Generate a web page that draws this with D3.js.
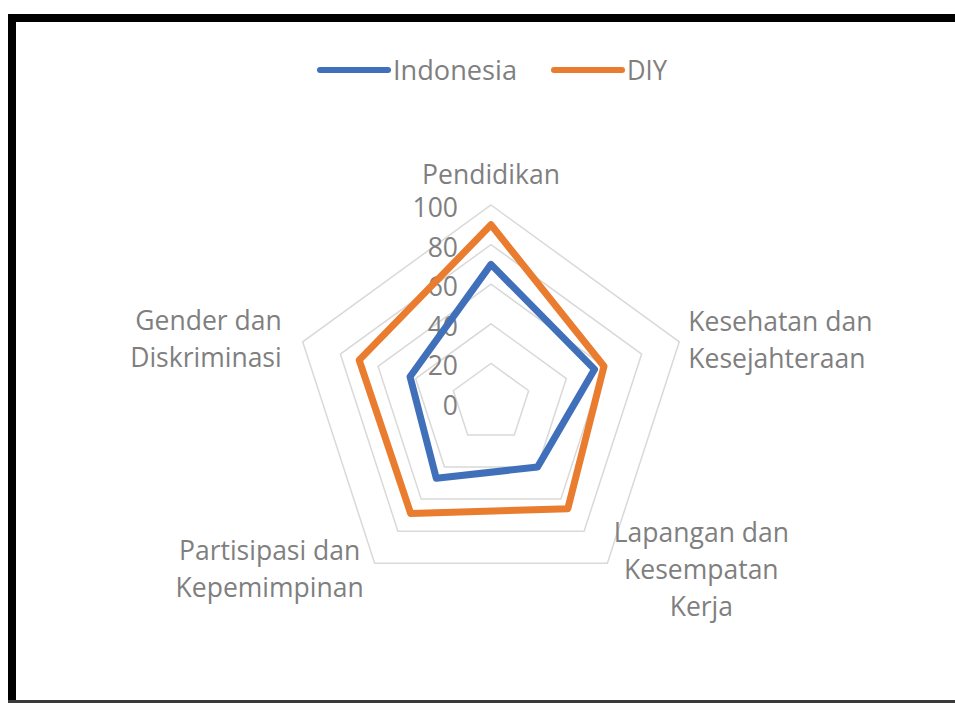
<!DOCTYPE html>
<html>
<head>
<meta charset="utf-8">
<script src="https://cdn.jsdelivr.net/npm/d3@7"></script>
<style>
  html, body { margin: 0; padding: 0; background: #fff; }
  svg { display: block; }
  text { font-family: "Open Sans", "Noto Sans", sans-serif; fill: #7f7f7f; }
</style>
</head>
<body>
<svg id="chart" width="955" height="703"></svg>
<script>
// Radar chart: Indonesia vs DIY across five dimensions
const categories = [
  ["Pendidikan"],
  ["Kesehatan dan", "Kesejahteraan"],
  ["Lapangan dan", "Kesempatan", "Kerja"],
  ["Partisipasi dan", "Kepemimpinan"],
  ["Gender dan", "Diskriminasi"]
];
const seriesNames = ["Indonesia", "DIY"];
const indonesiaValues = [70, 55, 40, 47, 43];
const diyValues = [90, 60, 66, 69, 70];
const tickValues = [0, 20, 40, 60, 80, 100];
const ringValues = [20, 40, 60, 80, 100];

const colors = { Indonesia: "#4170bb", DIY: "#e97c2f" };
const fontSize = 26.5;

const svg = d3.select("#chart");
const W = 955, H = 703;

// frame: heavy black top/left edges, thin grey bottom edge
svg.append("rect").attr("x", 8).attr("y", 14).attr("width", W - 8).attr("height", 8).attr("fill", "#000");
svg.append("rect").attr("x", 8).attr("y", 14).attr("width", 8).attr("height", H - 14).attr("fill", "#000");
svg.append("rect").attr("x", 8).attr("y", 700).attr("width", W - 8).attr("height", 3).attr("fill", "#3a3a3a");

const cx = 491, cy = 403;
const r = d3.scaleLinear().domain([0, 100]).range([0, 198]);
const n = categories.length;
const angle = i => i * 2 * Math.PI / n;
const pt = (i, v) => [cx + r(v) * Math.sin(angle(i)), cy - r(v) * Math.cos(angle(i))];

// grid rings
const ringLine = d3.line().curve(d3.curveLinearClosed);
svg.append("g").selectAll("path").data(ringValues).join("path")
  .attr("d", v => ringLine(d3.range(n).map(i => pt(i, v))))
  .attr("fill", "none")
  .attr("stroke", "#d9d9d9")
  .attr("stroke-width", 1.5);

// value axis labels along the top spoke
svg.append("g").selectAll("text").data(tickValues).join("text")
  .attr("x", cx - 33)
  .attr("y", v => cy - r(v) + 2)
  .attr("text-anchor", "end")
  .attr("dominant-baseline", "central")
  .attr("font-size", fontSize)
  .text(v => v);

// series polygons
const series = [
  { name: seriesNames[0], values: indonesiaValues },
  { name: seriesNames[1], values: diyValues }
];
svg.append("g").selectAll("path").data(series).join("path")
  .attr("d", s => ringLine(s.values.map((v, i) => pt(i, v))))
  .attr("fill", "none")
  .attr("stroke", s => colors[s.name])
  .attr("stroke-width", 7)
  .attr("stroke-linejoin", "round");

// category labels placed outside the outer ring
const lineH = 37;
const labelPlacement = [
  { anchor: "middle", dx: 0, dy: -21, valign: "bottom" },
  { anchor: "start", dx: 9, dy: -11, valign: "top" },
  { anchor: "middle", dx: 94, dy: -21, valign: "top" },
  { anchor: "middle", dx: -105, dy: -3, valign: "top" },
  { anchor: "end", dx: -21, dy: -12, valign: "top" }
];
const labels = svg.append("g");
categories.forEach((lines, i) => {
  const [x, y] = pt(i, 100);
  const p = labelPlacement[i];
  const baseY = p.valign === "bottom"
    ? y + p.dy - (lines.length - 1) * lineH
    : y + p.dy;
  const t = labels.append("text")
    .attr("text-anchor", p.anchor)
    .attr("font-size", fontSize);
  lines.forEach((ln, k) => {
    t.append("tspan").attr("x", x + p.dx).attr("y", baseY + k * lineH).text(ln);
  });
});

// legend
const legend = svg.append("g");
const legendItems = [
  { name: seriesNames[0], x: 320, w: 124 },
  { name: seriesNames[1], x: 554, w: 40 }
];
legendItems.forEach(it => {
  legend.append("line")
    .attr("x1", it.x).attr("x2", it.x + 68)
    .attr("y1", 70).attr("y2", 70)
    .attr("stroke", colors[it.name])
    .attr("stroke-width", 6)
    .attr("stroke-linecap", "round");
  legend.append("text")
    .attr("x", it.x + 73).attr("y", 80)
    .attr("font-size", 28)
    .attr("textLength", it.w)
    .attr("lengthAdjust", "spacingAndGlyphs")
    .text(it.name);
});
</script>
</body>
</html>
